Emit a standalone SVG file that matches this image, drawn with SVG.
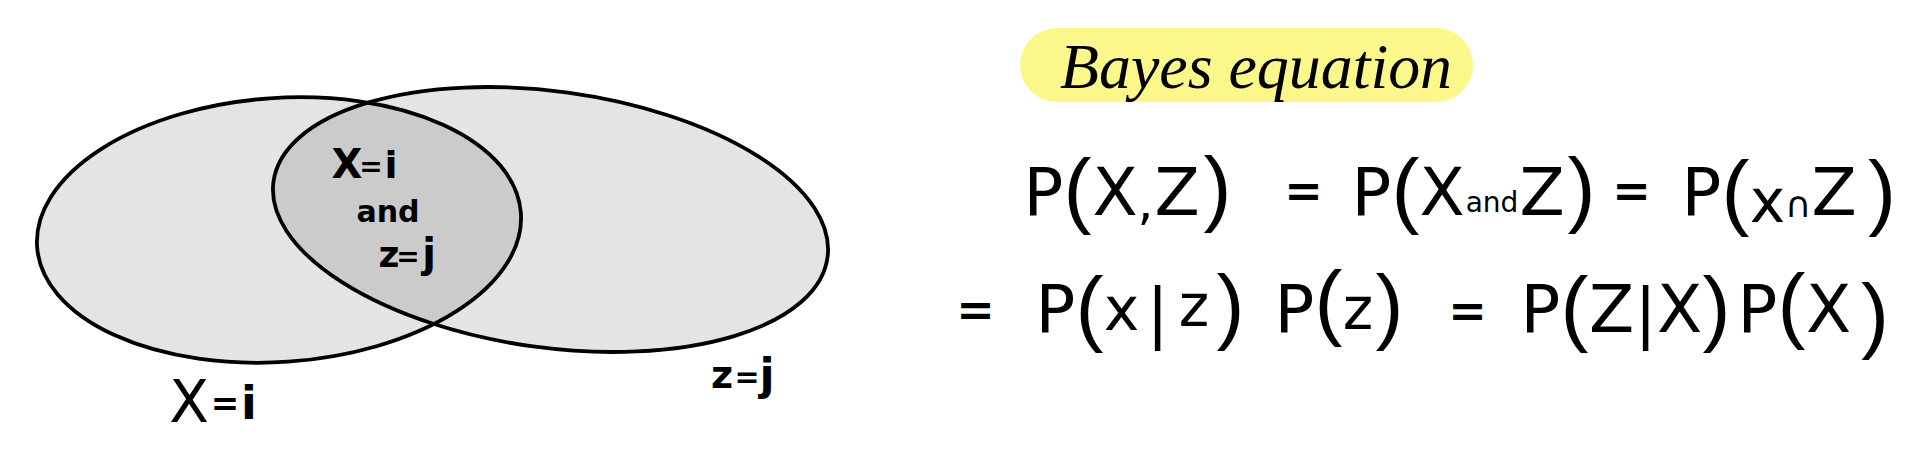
<svg xmlns="http://www.w3.org/2000/svg" width="1932" height="456" viewBox="0 0 1932 456">
<style>
.set{fill:#e4e4e4;stroke:none}
.inter{fill:#cbcbcb;stroke:none}
.edge{fill:none;stroke:#000;stroke-width:3.8}
.lbl{font-family:"DejaVu Sans","Liberation Sans",sans-serif;font-weight:bold;fill:#000;text-anchor:middle}
.eq{font-family:"DejaVu Sans","Liberation Sans",sans-serif;fill:#000;text-anchor:middle;font-size:66px}
.par{font-family:"Liberation Sans","DejaVu Sans",sans-serif;font-size:84px}
.op{font-size:46px;font-weight:bold}
.title{font-family:"Liberation Serif","DejaVu Serif",serif;font-style:italic;font-size:64px;fill:#000}
</style>
<defs>
<ellipse id="shapeX" cx="279" cy="230" rx="242.5" ry="132" transform="rotate(-4 279 230)"/>
<ellipse id="shapeZ" cx="550.5" cy="219.5" rx="279.6" ry="128.1" transform="rotate(7.8 550.5 219.5)"/>
<clipPath id="clipX">
<use href="#shapeX"/>
</clipPath>
</defs>
<rect x="0" y="0" width="1932" height="456" fill="#ffffff"/>
<g id="venn">
<g id="setX">
<use href="#shapeX" class="set"/>
</g>
<g id="setZ">
<use href="#shapeZ" class="set"/>
</g>
<g id="intersection" clip-path="url(#clipX)">
<use href="#shapeZ" class="inter"/>
</g>
<g id="outlines">
<use href="#shapeX" class="edge"/>
<use href="#shapeZ" class="edge"/>
</g>
<g id="label-intersection">
<text class="lbl" font-size="40"><tspan x="347" y="178">X</tspan><tspan x="371" y="176" font-size="28">=</tspan><tspan x="391" y="178" font-size="38">i</tspan></text>
<text class="lbl" font-size="30" x="388" y="222">and</text>
<text class="lbl" font-size="36"><tspan x="389" y="267">z</tspan><tspan x="408" y="266" font-size="28">=</tspan><tspan x="429" y="267" font-size="40">j</tspan></text>
</g>
<g id="label-X">
<text class="lbl" font-size="58"><tspan x="189" y="422" font-weight="normal">X</tspan><tspan x="225" y="415" font-size="34">=</tspan><tspan x="249" y="419" font-size="46">i</tspan></text>
</g>
<g id="label-Z">
<text class="lbl" font-size="38"><tspan x="722" y="388">z</tspan><tspan x="747" y="387" font-size="30">=</tspan><tspan x="767" y="390" font-size="44">j</tspan></text>
</g>
</g>
<g id="title">
<rect x="1020" y="28" width="453" height="74" rx="37" ry="37" fill="#fcf78b"/>
<text class="title" x="1060" y="88" textLength="392" lengthAdjust="spacingAndGlyphs">Bayes equation</text>
</g>
<g id="equation-row1">
<text class="eq">
<tspan x="1054" y="215">P</tspan>
<tspan class="par" x="1088" y="218">(</tspan>
<tspan x="1125.5" y="215">X</tspan>
<tspan x="1156" y="219" font-size="50">,</tspan>
<tspan x="1187.5" y="215">Z</tspan>
<tspan class="par" x="1228" y="216">)</tspan>
<tspan class="op" x="1314" y="207">=</tspan>
<tspan x="1382" y="215">P</tspan>
<tspan class="par" x="1416" y="218">(</tspan>
<tspan x="1452.5" y="215">X</tspan>
<tspan x="1502.5" y="212" font-size="28">and</tspan>
<tspan x="1552.5" y="215">Z</tspan>
<tspan class="par" x="1592" y="217">)</tspan>
<tspan class="op" x="1642" y="207">=</tspan>
<tspan x="1712" y="215">P</tspan>
<tspan class="par" x="1746" y="220">(</tspan>
<tspan x="1778" y="222" font-size="60">x</tspan>
<tspan x="1808.5" y="217" font-size="36">∩</tspan>
<tspan x="1844.5" y="215">Z</tspan>
<tspan class="par" x="1882" y="220">)</tspan>
</text>
</g>
<g id="equation-row2">
<text class="eq">
<tspan class="op" x="986" y="326">=</tspan>
<tspan x="1066" y="332">P</tspan>
<tspan class="par" x="1100" y="336">(</tspan>
<tspan x="1132" y="330" font-size="60">x</tspan>
<tspan x="1168" y="335">|</tspan>
<tspan x="1204.5" y="326" font-size="58">z</tspan>
<tspan class="par" x="1241" y="334">)</tspan>
<tspan x="1305" y="332">P</tspan>
<tspan class="par" x="1339" y="330">(</tspan>
<tspan x="1368.5" y="329" font-size="58">z</tspan>
<tspan class="par" x="1400" y="334">)</tspan>
<tspan class="op" x="1478" y="327">=</tspan>
<tspan x="1551" y="332">P</tspan>
<tspan class="par" x="1585" y="336">(</tspan>
<tspan x="1622" y="332">Z</tspan>
<tspan x="1656" y="335">|</tspan>
<tspan x="1690" y="332">X</tspan>
<tspan class="par" x="1727" y="336">)</tspan>
<tspan x="1768" y="332">P</tspan>
<tspan class="par" x="1802" y="333">(</tspan>
<tspan x="1839" y="332">X</tspan>
<tspan class="par" x="1875" y="343">)</tspan>
</text>
</g>
</svg>
